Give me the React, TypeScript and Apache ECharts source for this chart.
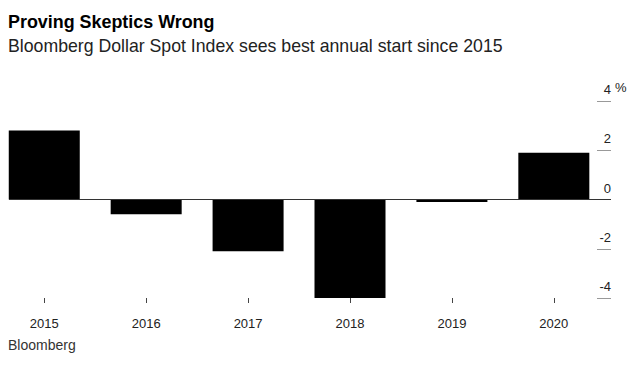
import React, { useEffect, useRef } from "react";
import * as echarts from "echarts";

const years = [2015, 2016, 2017, 2018, 2019, 2020];
const changes = [2.8, -0.6, -2.1, -4.0, -0.1, 1.9];
const yTicks = [-4, -2, 0, 2, 4];
const titleText = "Proving Skeptics Wrong";
const subtitleText = "Bloomberg Dollar Spot Index sees best annual start since 2015";
const sourceText = "Bloomberg";
const unitText = "%";

const FONT = "'Liberation Sans', Arial, Helvetica, sans-serif";

export default function App() {
  const ref = useRef<HTMLDivElement>(null);
  useEffect(() => {
    document.body.style.margin = "0";
    const chart = echarts.init(ref.current!, null, { renderer: "svg" });
    chart.setOption({
      animation: false,
      backgroundColor: "#fff",
      textStyle: { fontFamily: FONT },
      graphic: [
        {
          type: "text",
          left: 8,
          top: 13,
          style: { text: titleText, font: `bold 17.9px ${FONT}`, fill: "#000" },
        },
        {
          type: "text",
          left: 8,
          top: 37,
          style: { text: subtitleText, font: `17.7px ${FONT}`, fill: "#222" },
        },
        {
          type: "text",
          left: 615,
          top: 81,
          style: { text: unitText, font: `13px ${FONT}`, fill: "#222" },
        },
        {
          type: "text",
          left: 8,
          top: 338,
          style: { text: sourceText, font: `14px ${FONT}`, fill: "#333" },
        },
      ],
      grid: { left: 9, top: 101, width: 602, height: 197 },
      xAxis: {
        type: "value",
        min: 2014.654,
        max: 2020.561,
        splitLine: { show: false },
        axisLine: { show: false, onZero: false },
        axisTick: {
          show: true,
          length: 5,
          customValues: years,
          lineStyle: { color: "#444", width: 1 },
        },
        axisLabel: {
          customValues: years,
          margin: 19,
          fontSize: 13,
          color: "#222",
          fontFamily: FONT,
          formatter: (v: number) => String(v),
        },
      },
      yAxis: {
        type: "value",
        position: "right",
        min: -4,
        max: 4,
        interval: 2,
        splitLine: { show: false },
        axisLine: { show: false },
        axisTick: {
          show: true,
          inside: true,
          length: 14,
          customValues: yTicks,
          lineStyle: { color: "#999", width: 1 },
        },
        axisLabel: {
          inside: true,
          margin: 0,
          align: "right",
          verticalAlign: "bottom",
          padding: [0, 0, 5, 0],
          fontSize: 13,
          color: "#222",
          fontFamily: FONT,
          customValues: yTicks,
        },
      },
      series: [
        {
          type: "bar",
          data: years.map((y, i) => [y, changes[i]]),
          barWidth: 71,
          itemStyle: { color: "#000" },
          markLine: {
            silent: true,
            symbol: "none",
            label: { show: false },
            lineStyle: { color: "#333", width: 1, type: "solid" },
            data: [{ yAxis: 0 }],
          },
        },
      ],
    });
    return () => chart.dispose();
  }, []);
  return <div ref={ref} style={{ width: 638, height: 365 }} />;
}
